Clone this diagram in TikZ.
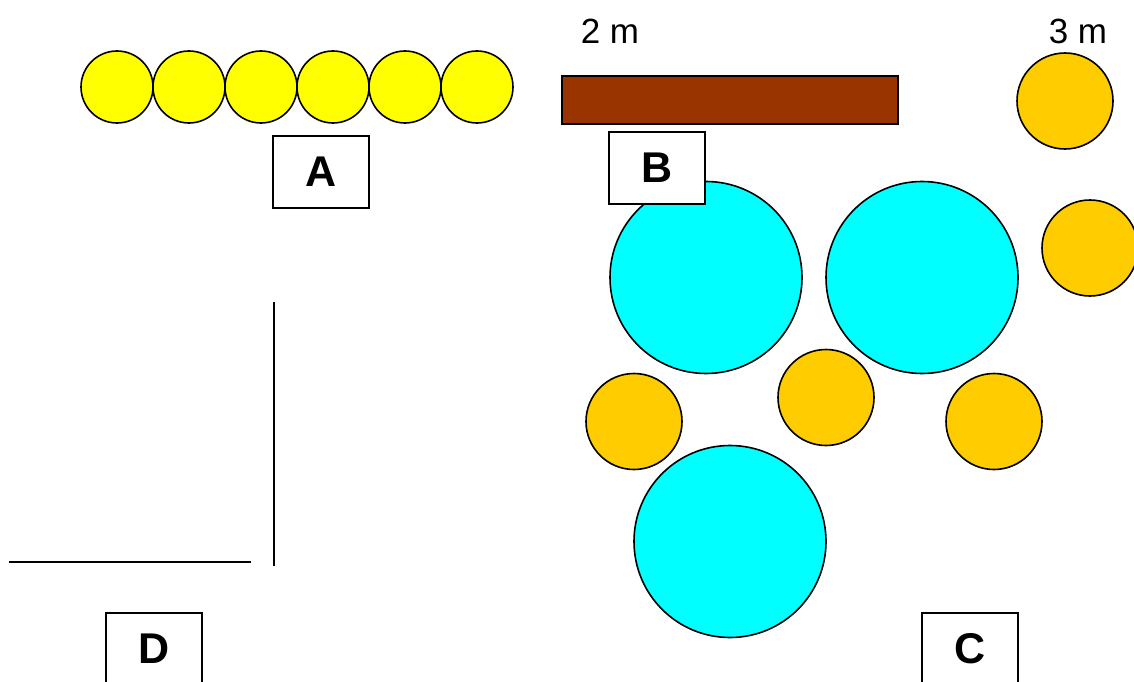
\documentclass[tikz,border=0pt]{standalone}
\usepackage{fontspec}
\setmainfont{Liberation Sans}
\definecolor{ball}{HTML}{FFFF00}
\definecolor{plank}{HTML}{993300}
\definecolor{pool}{HTML}{00FFFF}
\definecolor{bush}{HTML}{FFCC00}
\begin{document}
\begin{tikzpicture}[x=1pt,y=-1pt,
  outl/.style={draw=black,line width=1.6pt},
  disc/.style={outl,circle,inner sep=0pt,outer sep=0pt},
  small/.style={disc,fill=ball,minimum size=72pt},
  shrub/.style={disc,fill=bush,minimum size=96pt},
  big/.style={disc,fill=pool,minimum size=192pt},
  tag/.style={draw=black,line width=1.6pt,fill=white,minimum width=96pt,minimum height=72pt,
    inner sep=0pt,font=\fontsize{43}{50}\selectfont\bfseries},
  dim/.style={inner sep=0pt,font=\fontsize{35}{42}\selectfont},
  wall/.style={line width=1.8pt}]
\useasboundingbox (0,0) rectangle (1134,682);
\fill[white] (0,0) rectangle (1134,682);

% row of six small discs
\foreach \i in {0,...,5}
  \node[small] (y\i) at (117+72*\i,87) {};

% plank and dimension labels
\node[outl,fill=plank,minimum width=336pt,minimum height=48pt,inner sep=0pt,anchor=north west] (plank) at (561,75) {};
\node[dim] (twom) at (610,31) {2 m};
\node[dim] (threem) at (1078,31) {3 m};

% large discs
\node[big] (c1) at (706,277.5) {};
\node[big] (c2) at (922,277.5) {};
\node[big] (c3) at (730,541.5) {};

% shrubs
\node[shrub] (o1) at (1065,101) {};
\node[shrub] (o2) at (1090,248) {};
\node[shrub] (o3) at (634,421.5) {};
\node[shrub] (o4) at (826,397.5) {};
\node[shrub] (o5) at (994,421.5) {};

% walls
\coordinate (v1) at (274,302);
\coordinate (v2) at (274,566);
\coordinate (h1) at (9,562);
\coordinate (h2) at (251,562);
\draw[wall] (v1) -- (v2);
\draw[wall] (h1) -- (h2);

% labels
\node[tag] (A) at (321,172) {A};
\node[tag] (B) at (657,168) {B};
\node[tag] (C) at (970,649) {C};
\node[tag] (D) at (154,649) {D};
\end{tikzpicture}
\end{document}
